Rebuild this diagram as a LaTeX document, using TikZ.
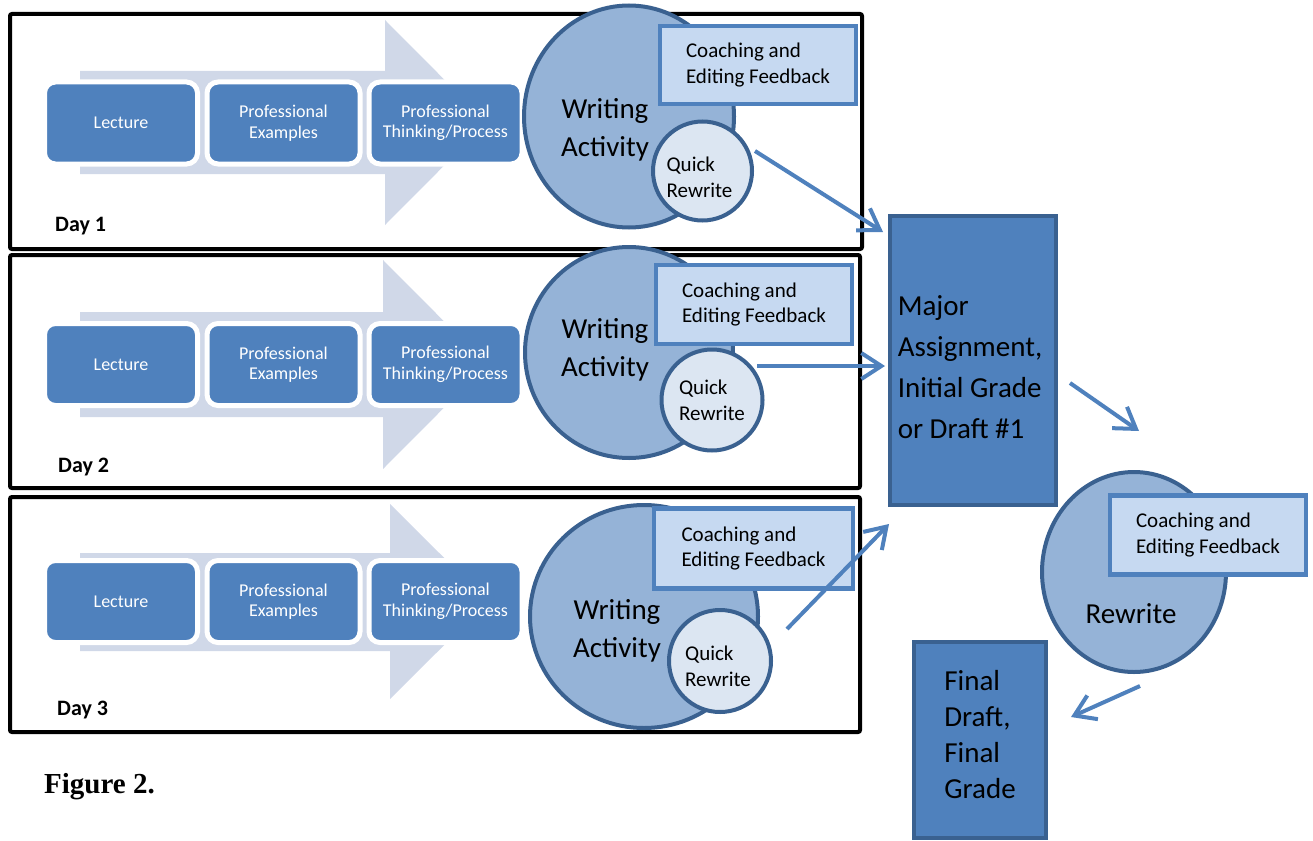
\documentclass[tikz,border=0pt]{standalone}
\usepackage{fontspec}
\setmainfont{Carlito}
\newfontfamily\figfont{Liberation Serif}
\usetikzlibrary{shapes.geometric, arrows.meta, positioning, calc}

\definecolor{accent}{HTML}{4F81BD}
\definecolor{accentdk}{HTML}{3A6190}
\definecolor{chev}{HTML}{D0D8E8}
\definecolor{wafill}{HTML}{95B3D7}
\definecolor{qrfill}{HTML}{DCE6F2}
\definecolor{coachfill}{HTML}{C6D9F1}

\begin{document}
\begin{tikzpicture}[
    x=1pt, y=-1pt,
    dayframe/.style={draw=black, line width=4pt, rounded corners=2pt, inner sep=0pt, outer sep=0pt},
    daylbl/.style={font=\fontsize{22}{24}\selectfont\bfseries, inner sep=0pt},
    proc/.style={draw=white, line width=5pt, fill=accent, rounded corners=11pt, text=white, align=center,
                 minimum width=153pt, minimum height=82pt, font=\fontsize{18}{20.5}\selectfont},
    wacirc/.style={ellipse, draw=accentdk, line width=4pt, fill=wafill, inner sep=0pt},
    watext/.style={align=center, font=\fontsize{29}{38}\selectfont, inner sep=0pt},
    qrcirc/.style={circle, draw=accentdk, line width=4pt, fill=qrfill, inner sep=0pt},
    qrtext/.style={align=left, inner sep=0pt, font=\fontsize{21}{26}\selectfont},
    coach/.style={draw=accent, line width=4.5pt, fill=coachfill, align=left, inner sep=0pt,
                  minimum width=196pt, minimum height=78pt, font=\fontsize{21}{25.5}\selectfont},
    bigbox/.style={draw=accentdk, line width=4pt, fill=accent, inner sep=0pt},
    bigtext/.style={align=left, inner sep=0pt, font=\fontsize{29}{41}\selectfont},
    fl/.style={-{Straight Barb[length=20pt, width=26pt]}, draw=accent, line width=4pt}
]
\useasboundingbox (0,0) rectangle (1313,840);

% ===== RIQUADRI DEI GIORNI =====
\node[dayframe, minimum width=852pt, minimum height=235pt] (DAY1) at (436,131.5) {};
\node[dayframe, minimum width=850pt, minimum height=233pt] (DAY2) at (435,371.5) {};
\node[dayframe, minimum width=850pt, minimum height=235pt] (DAY3) at (435,614.5) {};
\node[daylbl, anchor=base west] (D1) at ([xshift=45pt, yshift=18pt]DAY1.south west) {Day 1};
\node[daylbl, anchor=base west] (D2) at ([xshift=48pt, yshift=16pt]DAY2.south west) {Day 2};
\node[daylbl, anchor=base west] (D3) at ([xshift=47pt, yshift=17pt]DAY3.south west) {Day 3};

% ===== FRECCE DI SFONDO =====
\fill[chev] (80,71) -- (385,71) -- (385,20) -- (487,122.5) -- (385,225) -- (385,174) -- (80,174) -- cycle;
\fill[chev] (80,312) -- (383,312) -- (383,260) -- (487,364.5) -- (383,469) -- (383,417) -- (80,417) -- cycle;
\fill[chev] (80,553) -- (390,553) -- (390,504) -- (488,601.5) -- (390,699) -- (390,651) -- (80,651) -- cycle;

% ===== DAY 1 =====
\node[proc] (LEC1) at (121,123) {Lecture};
\node[proc] (PEX1) at (283.5,123) {Professional\\Examples};
\node[proc] (PTP1) at (445.5,123) {Professional\\Thinking/Process};
\node[wacirc, minimum width=210pt, minimum height=222pt] (WA1) at (629,116.5) {};
\node[watext] (WAT1) at ([xshift=-24pt, yshift=-13pt]WA1.center) {Writing\\Activity};
\node[coach] (CF1) at (758,65) {Coaching and\\Editing Feedback};
\node[qrcirc, minimum size=99pt] (QR1) at (702.5,171) {};
\node[qrtext] (QRT1) at ([xshift=-3pt, yshift=-6pt]QR1.center) {Quick\\Rewrite};

% ===== DAY 2 =====
\node[proc] (LEC2) at (121,364.5) {Lecture};
\node[proc] (PEX2) at (283.5,364.5) {Professional\\Examples};
\node[proc] (PTP2) at (445.5,364.5) {Professional\\Thinking/Process};
\node[wacirc, minimum width=208pt, minimum height=211pt] (WA2) at (629,352.5) {};
\node[watext] (WAT2) at ([xshift=-24pt, yshift=3pt]WA2.center) {Writing\\Activity};
\node[coach, minimum height=79pt] (CF2) at (754,304.5) {Coaching and\\Editing Feedback};
\node[qrcirc, minimum size=101pt] (QR2) at (712,400) {};
\node[qrtext] (QRT2) at ([xshift=0pt, yshift=0pt]QR2.center) {Quick\\Rewrite};

% ===== DAY 3 =====
\node[proc] (LEC3) at (121,601.5) {Lecture};
\node[proc] (PEX3) at (283.5,601.5) {Professional\\Examples};
\node[proc] (PTP3) at (445.5,601.5) {Professional\\Thinking/Process};
\node[wacirc, minimum width=228pt, minimum height=223pt] (WA3) at (644,616.5) {};
\node[watext] (WAT3) at ([xshift=-27pt, yshift=-14pt]WA3.center) {Writing\\Activity};
\node[coach, minimum width=199pt, minimum height=80pt] (CF3) at (753.5,548.5) {Coaching and\\Editing Feedback};
\node[qrcirc, minimum size=102pt] (QR3) at (720,661) {};
\node[qrtext] (QRT3) at ([xshift=-2pt, yshift=-5pt]QR3.center) {Quick\\Rewrite};

% ===== CONSEGNA, RISCRITTURA, VERSIONE FINALE =====
\node[bigbox, minimum width=166pt, minimum height=289pt] (MAJ) at (973,360.5) {};
\node[bigtext] (MAJT) at ([xshift=-3pt, yshift=-7pt]MAJ.center) {Major\\Assignment,\\Initial Grade\\or Draft \#1};
\node[wacirc, minimum width=184pt, minimum height=200pt] (RW) at (1134,572) {};
\node[watext] (RWT) at ([xshift=-3pt, yshift=-42pt]RW.center) {Rewrite};
\node[coach, minimum height=79pt] (CF4) at (1208,535) {Coaching and\\Editing Feedback};
\node[bigbox, minimum width=132pt, minimum height=196pt] (FIN) at (980,740) {};
\node[bigtext, font=\fontsize{29}{36}\selectfont] (FINT) at ([yshift=5pt]FIN.center) {Final\\Draft,\\Final\\Grade};

% ===== FRECCE =====
\coordinate (Q1OUT) at (755,151);
\coordinate (M1IN) at (883,232);
\coordinate (Q2OUT) at (757,366);
\coordinate (M2IN) at (885,366);
\coordinate (Q3OUT) at (787,629);
\coordinate (M3IN) at (889,524);
\coordinate (MOUT) at (1070,383);
\coordinate (RWIN) at (1139,431);
\coordinate (RWOUT) at (1140,686);
\coordinate (FININ) at (1071,717);
\draw[fl] (Q1OUT) -- (M1IN);
\draw[fl] (Q2OUT) -- (M2IN);
\draw[fl] (Q3OUT) -- (M3IN);
\draw[fl] (MOUT) -- (RWIN);
\draw[fl] (RWOUT) -- (FININ);

\node[anchor=base west, inner sep=0pt, font=\figfont\fontsize{29}{32}\selectfont\bfseries] (FIG) at (44,793) {Figure 2.};

\end{tikzpicture}
\end{document}
